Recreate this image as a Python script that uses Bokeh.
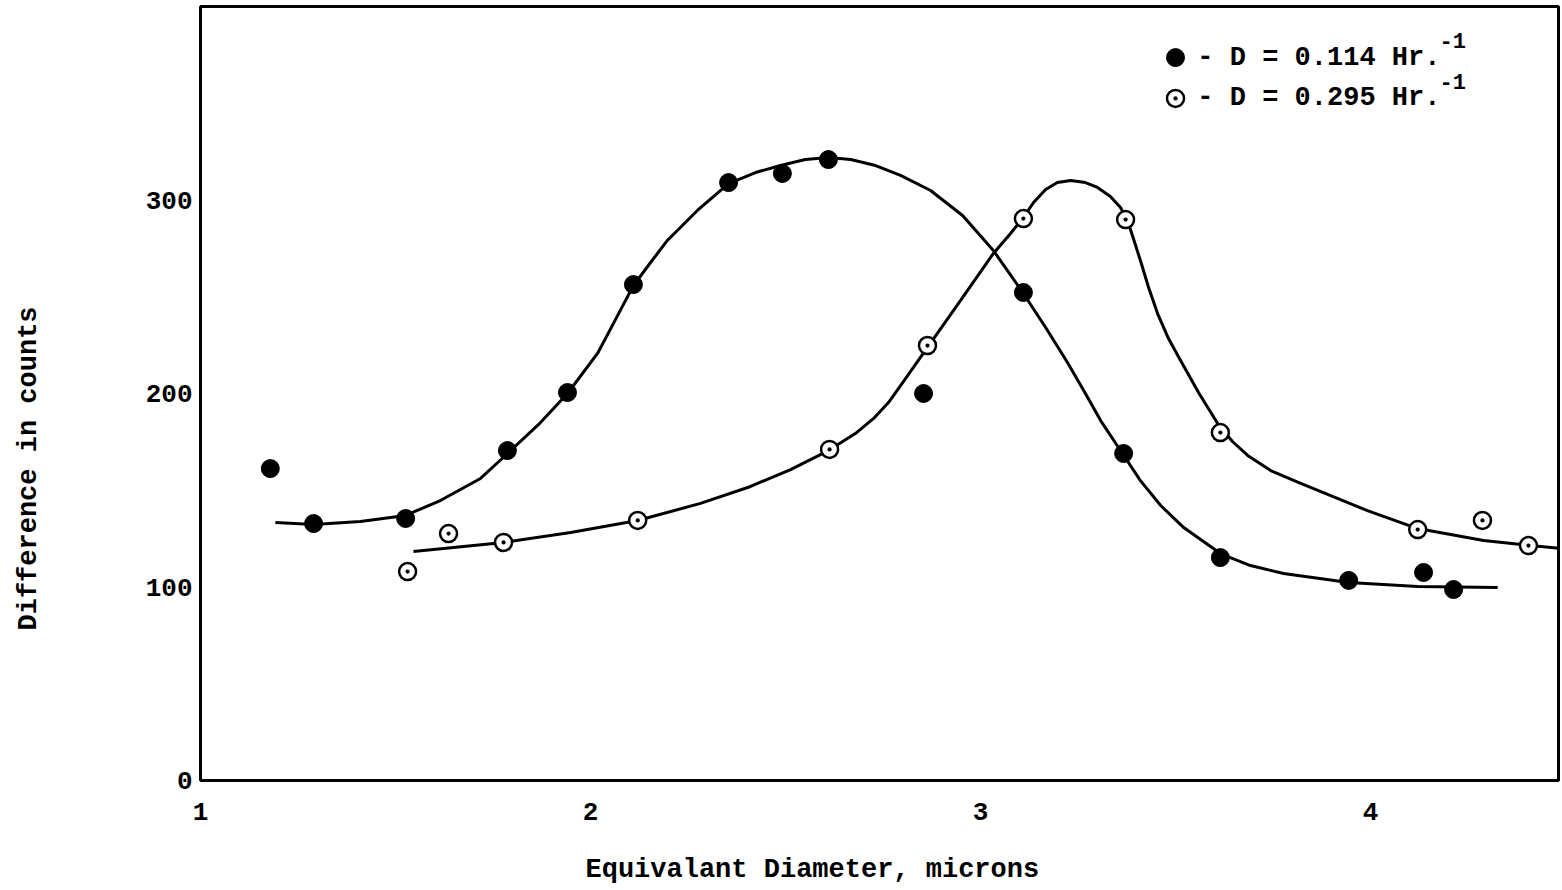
from bokeh.plotting import figure
from bokeh.models import Label, Range1d, FixedTicker, Title
from bokeh.embed import file_html
from bokeh.resources import INLINE

# ---- data ----
# D = 0.114 Hr^-1 (filled circles)
filled_x = [1.179, 1.290, 1.526, 1.787, 1.941, 2.110, 2.354, 2.492, 2.610,
            2.854, 3.110, 3.367, 3.615, 3.944, 4.136, 4.213]
filled_y = [161.2, 132.8, 135.4, 170.5, 200.5, 256.3, 309.0, 313.7, 320.9,
            200.0, 252.2, 169.0, 115.2, 103.4, 107.5, 98.7]

# D = 0.295 Hr^-1 (open circles)
open_x = [1.531, 1.636, 1.777, 2.121, 2.613, 2.864, 3.110, 3.372, 3.615,
          4.121, 4.287, 4.405]
open_y = [108.0, 127.6, 123.0, 134.4, 171.1, 224.8, 290.4, 289.9, 179.8,
          129.7, 134.4, 121.4]

# hand-drawn smooth curves
curve_a_x = [1.192, 1.290, 1.410, 1.526, 1.615, 1.718, 1.790, 1.867, 1.941,
             2.018, 2.064, 2.110, 2.154, 2.197, 2.274, 2.354, 2.423, 2.487,
             2.551, 2.610, 2.667, 2.731, 2.795, 2.872, 2.954, 3.033, 3.110,
             3.167, 3.223, 3.269, 3.308, 3.364, 3.410, 3.462, 3.521, 3.615,
             3.692, 3.777, 3.944, 4.121, 4.326]
curve_a_y = [133.3, 132.3, 133.9, 137.0, 144.7, 156.1, 169.5, 184.0, 200.0,
             220.7, 238.2, 255.8, 267.7, 279.1, 294.6, 308.5, 314.2, 317.8,
             320.9, 322.0, 320.9, 317.8, 312.7, 304.9, 292.0, 273.9, 251.7,
             234.1, 216.0, 200.0, 186.0, 169.0, 155.0, 142.1, 130.7, 117.3,
             111.1, 107.0, 102.3, 100.3, 99.7]

curve_b_x = [1.546, 1.777, 1.949, 2.121, 2.282, 2.403, 2.513, 2.610, 2.679,
             2.726, 2.764, 2.795, 2.864, 2.949, 3.033, 3.077, 3.110, 3.136,
             3.167, 3.197, 3.231, 3.269, 3.300, 3.333, 3.359, 3.377, 3.392,
             3.410, 3.431, 3.454, 3.482, 3.513, 3.559, 3.608, 3.646, 3.685,
             3.744, 3.821, 3.992, 4.121, 4.290, 4.410, 4.492]
curve_b_y = [118.3, 123.0, 128.2, 134.4, 143.2, 151.4, 160.7, 170.5, 179.3,
             187.1, 195.3, 204.1, 223.8, 248.1, 272.4, 282.7, 291.0, 298.7,
             305.4, 309.0, 310.1, 309.0, 306.5, 301.8, 296.1, 289.4, 280.1,
             268.7, 254.8, 241.3, 228.4, 217.1, 200.5, 184.5, 175.2, 168.0,
             160.2, 153.5, 139.5, 130.2, 124.0, 121.4, 119.9]

x_ticks = [1, 2, 3, 4]
y_ticks = [0, 100, 200, 300]

legend_labels = ["- D = 0.114 Hr.", "- D = 0.295 Hr."]
legend_sup = "-1"
x_title = "Equivalant Diameter, microns"
y_title = "Difference in counts"

FONT = "Liberation Mono"

p = figure(width=1562, height=890, output_backend="svg", toolbar_location=None,
           x_range=Range1d(1, 4.482), y_range=Range1d(0, 400),
           min_border_left=200, min_border_right=4, min_border_top=6,
           min_border_bottom=110, background_fill_color="white",
           border_fill_color="white")
p.grid.visible = False
p.outline_line_color = "black"
p.outline_line_width = 3
p.xaxis.ticker = FixedTicker(ticks=x_ticks)
p.yaxis.ticker = FixedTicker(ticks=y_ticks)
for ax in (p.xaxis, p.yaxis):
    ax.axis_line_color = None
    ax.major_tick_line_color = None
    ax.minor_tick_line_color = None
    ax.major_label_text_font = FONT
    ax.major_label_text_font_style = "bold"
    ax.major_label_text_font_size = "26px"
    ax.major_label_text_color = "black"
p.xaxis.major_label_standoff = 16
p.yaxis.major_label_standoff = 2

p.line(curve_a_x, curve_a_y, line_width=3, line_color="black",
       line_join="round")
p.line(curve_b_x, curve_b_y, line_width=3, line_color="black",
       line_join="round")

p.scatter(filled_x, filled_y, marker="circle", size=18,
          fill_color="black", line_color="black")
p.scatter(open_x, open_y, marker="circle_dot", size=17,
          fill_color="white", line_color="black", line_width=2.5)

# legend (layout positions in data space)
leg_x_marker = 3.5
leg_x_text = 3.556
leg_x_sup = 4.177
leg_y = [373.6, 352.5]
p.scatter([leg_x_marker], [leg_y[0]], marker="circle", size=18,
          fill_color="black", line_color="black")
p.scatter([leg_x_marker], [leg_y[1]], marker="circle_dot", size=17,
          fill_color="white", line_color="black", line_width=2.5)
for yy, txt in zip(leg_y, legend_labels):
    p.add_layout(Label(x=leg_x_text, y=yy, text=txt, text_font=FONT,
                       text_font_style="bold", text_font_size="27px",
                       text_baseline="middle", text_align="left",
                       text_color="black"))
    p.add_layout(Label(x=leg_x_sup, y=yy + 8.8, text=legend_sup, text_font=FONT,
                       text_font_style="bold", text_font_size="22px",
                       text_baseline="middle", text_align="left",
                       text_color="black"))

# axis titles (side panels; a blank spacer pushes the y title outward)
xt = Title(text="\n" + x_title, align="left", offset=385, standoff=0,
           text_font=FONT, text_font_style="bold", text_font_size="27px",
           text_color="black")
p.add_layout(xt, "below")
spacer = Title(text=" ", standoff=67, text_font=FONT, text_font_size="27px")
p.add_layout(spacer, "left")
yt = Title(text=y_title, align="left", offset=150, standoff=0,
           text_font=FONT, text_font_style="bold", text_font_size="27px",
           text_color="black")
p.add_layout(yt, "left")

open("out.html", "w").write(file_html(p, INLINE))
